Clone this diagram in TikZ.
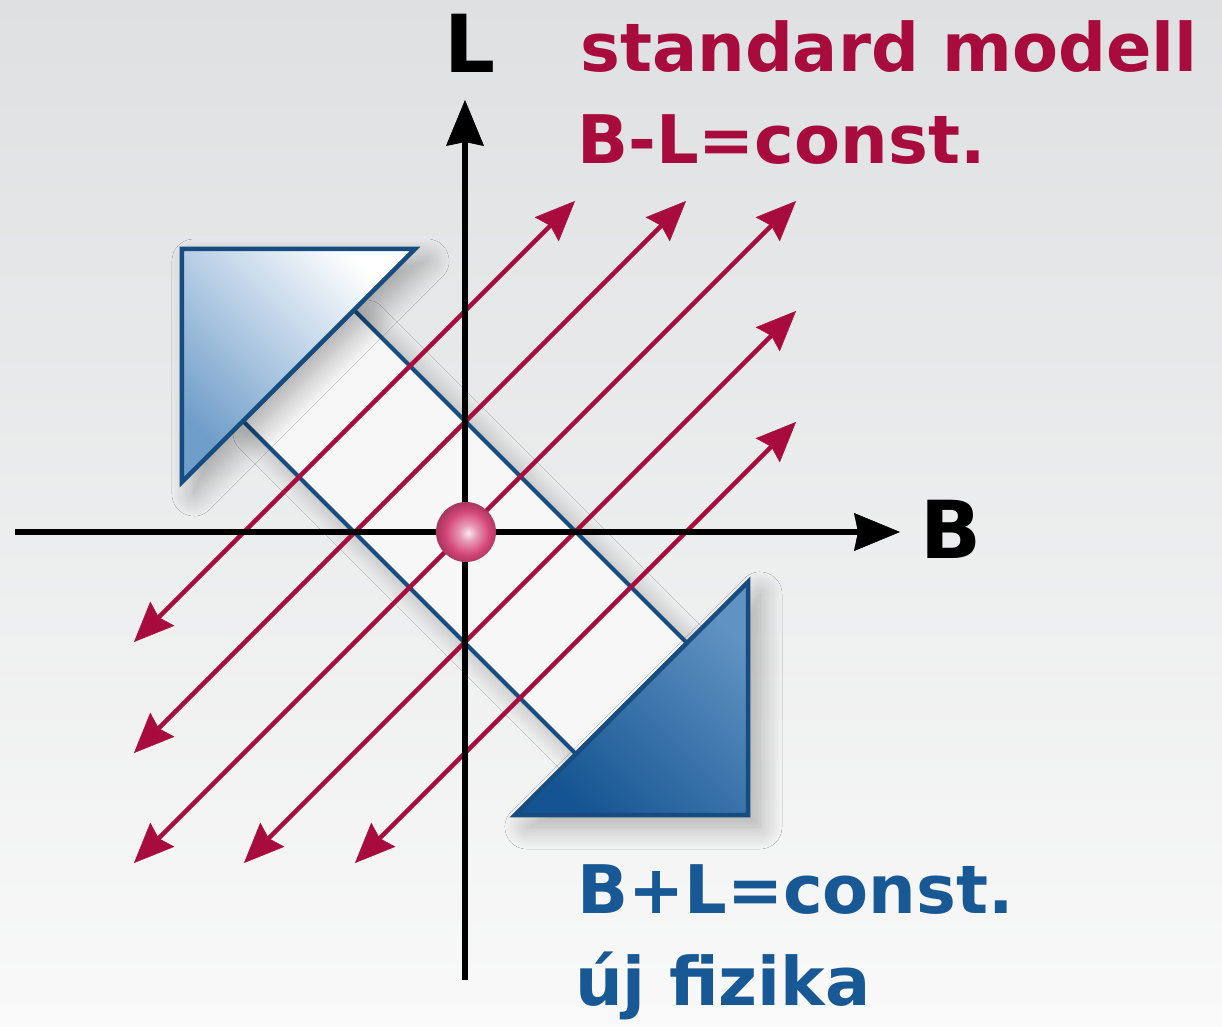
\documentclass[tikz,border=0pt]{standalone}
\usepackage{fontspec}
\setmainfont{DejaVu Sans}
\usetikzlibrary{arrows.meta,shadows.blur}
\definecolor{ModellPiros}{RGB}{168,12,62}
\definecolor{FizikaKek}{RGB}{24,88,148}
\definecolor{vonalkek}{RGB}{22,76,128}
\definecolor{vilagoskek}{RGB}{112,158,202}
\definecolor{sotetkek}{RGB}{20,84,146}
\definecolor{kozepkek}{RGB}{96,146,194}
\definecolor{golyo}{RGB}{212,70,120}
\definecolor{hatterfent}{RGB}{222,224,225}
\definecolor{hatterlent}{RGB}{249,249,249}
\colorlet{piros}{ModellPiros}
\colorlet{kek}{FizikaKek}
\pgfdeclareradialshading{golyofeny}{\pgfpoint{2bp}{-1bp}}{%
  color(0bp)=(white!88!golyo); color(7bp)=(golyo!55!white);
  color(18bp)=(golyo); color(25bp)=(golyo!80!black); color(50bp)=(golyo!80!black)}

\begin{document}
\begin{tikzpicture}[x=1pt,y=1pt,
    tengely/.style={black,line width=6.5pt,-{Stealth[length=46pt,width=38pt,inset=4pt,line width=0.5pt,black,fill=black]}},
    nyil/.style={piros,line width=4.5pt,
      {Stealth[length=40pt,width=34pt,inset=5pt,line width=0.5pt]}-{Stealth[length=40pt,width=34pt,inset=5pt,line width=0.5pt]}},
    felirat/.style={inner sep=0pt,anchor=base west,font=\fontsize{67}{80}\selectfont\bfseries},
    betu/.style={inner sep=0pt,anchor=base west,font=\fontsize{80}{90}\selectfont\bfseries},
    arnyek/.style={blur shadow={shadow xshift=12pt,shadow yshift=-12pt,shadow blur radius=22pt,
      shadow blur steps=16,shadow opacity=30}}]
        % hatter
        \shade[top color=hatterfent,bottom color=hatterlent] (-465,-494) rectangle (757,532);
        % B+L savja a ket haromszog kozott
        \filldraw[vonalkek,line width=4pt,fill=white!94!gray,arnyek]
          (-111,222) -- (222,-111) -- (111,-222) -- (-222,111) -- cycle;
        \draw[vonalkek,line width=4.5pt,top color=white,bottom color=vilagoskek,shading angle=-45,arnyek]
          (-283,283) -- (-50,283) -- (-283,50) -- cycle;
        \draw[vonalkek,line width=4.5pt,top color=kozepkek,bottom color=sotetkek,shading angle=-45,arnyek]
          (283,-283) -- (283,-50) -- (50,-283) -- cycle;
        % B-L=const. nyilak
        \foreach \a/\b in {110/331,221/331,331/331,331/221,331/110}
          \draw[nyil] (-\b,-\a) -- (\a,\b);
        % tengelyek
        \coordinate (O) at (0,0);
        \coordinate (Bbal) at (-450,0);
        \coordinate (Bveg) at (435,0);
        \coordinate (Llent) at (0,-448);
        \coordinate (Lveg) at (0,432);
        \draw[tengely] (Bbal) -- (Bveg);
        \draw[tengely] (Llent) -- (Lveg);
        \shade[shading=golyofeny] (1,0) circle (30);
        \node[betu] (Lbetu) at (-21,459) {L};
        \node[betu] (Bbetu) at (455,-26) {B};
        \node[felirat,piros] (modell) at (115,460) {standard modell};
        \node[felirat,piros] (bml) at (112,368) {B-L=const.};
        \node[felirat,kek] (bpl) at (112,-381) {B+L=const.};
        \node[felirat,kek] (ujfiz) at (110,-473) {új fizika};
\end{tikzpicture}
\end{document}
